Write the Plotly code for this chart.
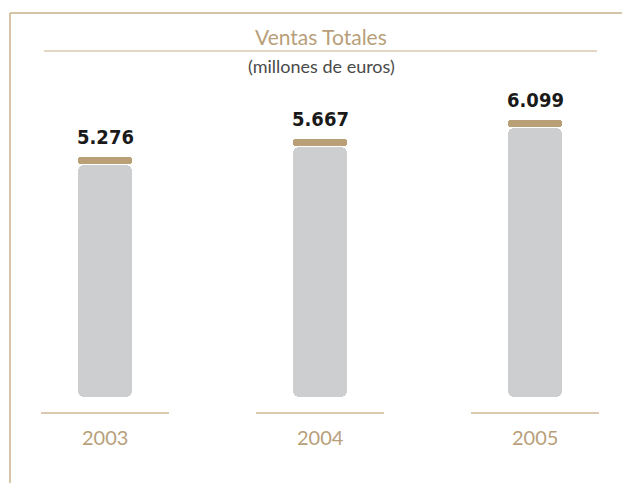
import plotly.graph_objects as go

# ---- data ----
years = ["2003", "2004", "2005"]
ventas = [5276, 5667, 6099]
value_labels = ["5.276", "5.667", "6.099"]
title_text = "Ventas Totales"
subtitle_text = "(millones de euros)"

# ---- style / geometry ----
OFF = 8                        # page body margin of the html page
W, H = 630 - OFF, 483 - OFF
PX_PER_UNIT = 0.0455
U = 1.0 / PX_PER_UNIT          # data units per pixel
ZERO_PX = 397 - OFF            # pixel row of value 0 (in figure coords)
YMAX = ZERO_PX * U
YMIN = -(H - ZERO_PX) * U
CAT_PX = 215                   # pixels between category centres
FIRST_PX = 105 - OFF
XMIN = -FIRST_PX / CAT_PX
XMAX = XMIN + W / CAT_PX
BAR_W = 54 / CAT_PX

GRAY = "#cdcecf"
CAP = "#b9a077"
BASE_LINE = "#dccab0"
TAN = "#b89f7a"
BORDER = "#c8b08a"

xs = list(range(len(years)))
CAP_H = 7 * U
GAP = 1.2 * U


def py(px):
    """page pixel row -> paper fraction"""
    return 1 - (px - OFF) / H


def pxx(px):
    return (px - OFF) / W


fig = go.Figure()

# gray bars (explicit base -> all four corners rounded)
tops = [v - CAP_H - GAP for v in ventas]
fig.add_trace(go.Bar(x=xs, y=tops, base=[0] * len(xs), width=BAR_W,
                     marker=dict(color=GRAY, cornerradius=6, line=dict(width=0)),
                     hoverinfo="skip"))

# tan caps (pill shaped)
fig.add_trace(go.Bar(x=xs, y=[CAP_H] * len(xs), base=[v - CAP_H for v in ventas], width=BAR_W,
                     marker=dict(color=CAP, cornerradius=3.5, line=dict(width=0)), hoverinfo="skip"))

# base segments under each bar
half = 64 / CAT_PX
bx, by = [], []
for x in xs:
    bx += [x - half, x + half, None]
    by += [-16 * U, -16 * U, None]
fig.add_trace(go.Scatter(x=bx, y=by, mode="lines", line=dict(color=BASE_LINE, width=2),
                         hoverinfo="skip"))

annotations = []
for x, v, lab, yr in zip(xs, ventas, value_labels, years):
    annotations.append(dict(x=x, y=v, xref="x", yref="y", text=lab, showarrow=False,
                            yanchor="bottom", yshift=6,
                            font=dict(family="DejaVu Sans Condensed, Roboto", size=20,
                                      color="#1a1a1a", weight="bold")))
    annotations.append(dict(x=x, y=0, xref="x", yref="y", text=yr, showarrow=False,
                            yanchor="middle", yshift=-40,
                            font=dict(family="Lato, Open Sans", size=20, color=TAN)))

annotations.append(dict(x=pxx(321), y=py(36), xref="paper", yref="paper", text=title_text,
                        showarrow=False, xanchor="center", yanchor="middle",
                        font=dict(family="Lato, Open Sans", size=21, color=TAN)))
annotations.append(dict(x=pxx(321), y=py(66), xref="paper", yref="paper", text=subtitle_text,
                        showarrow=False, xanchor="center", yanchor="middle",
                        font=dict(family="Lato, Open Sans", size=18, color="#4a4a4a")))

shapes = [
    dict(type="line", xref="paper", yref="paper", x0=pxx(10), x1=1, y0=py(13), y1=py(13),
         line=dict(color=BORDER, width=1.5)),
    dict(type="line", xref="paper", yref="paper", x0=pxx(10), x1=pxx(10), y0=py(13), y1=0,
         line=dict(color=BORDER, width=1.5)),
    dict(type="line", xref="paper", yref="paper", x0=pxx(44), x1=pxx(597), y0=py(51), y1=py(51),
         line=dict(color=BORDER, width=1.2)),
]

fig.update_layout(
    width=W, height=H, margin=dict(l=0, r=0, t=0, b=0),
    paper_bgcolor="white", plot_bgcolor="white",
    barmode="overlay", showlegend=False, bargap=0,
    xaxis=dict(range=[XMIN, XMAX], visible=False, fixedrange=True),
    yaxis=dict(range=[YMIN, YMAX], visible=False, fixedrange=True),
    annotations=annotations, shapes=shapes,
)

fig.write_html("out.html")
